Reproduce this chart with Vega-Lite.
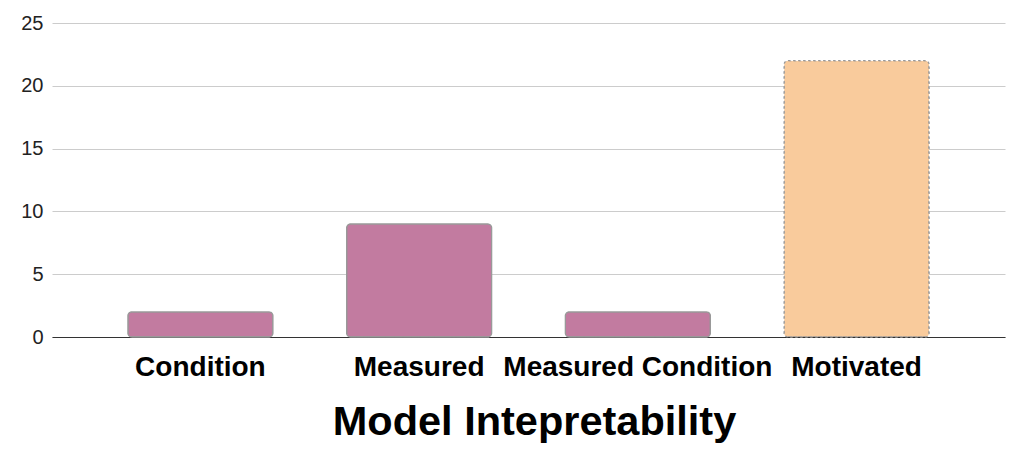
{
  "$schema": "https://vega.github.io/schema/vega-lite/v6.json",
  "width": 953,
  "height": 314,
  "autosize": {"type": "none"},
  "padding": {"left": 52, "top": 23, "right": 23, "bottom": 121},
  "background": "white",
  "config": {"view": {"stroke": null}, "font": "Liberation Sans"},
  "data": {"values": [
    {"category": "Condition", "count": 2},
    {"category": "Measured", "count": 9},
    {"category": "Measured Condition", "count": 2},
    {"category": "Motivated", "count": 22}
  ]},
  "mark": {"type": "bar", "cornerRadius": 4, "stroke": "#999999", "strokeWidth": 1.3},
  "encoding": {
    "x": {
      "field": "category", "type": "nominal", "sort": null,
      "scale": {"paddingInner": 0.337, "paddingOuter": 0.347},
      "axis": {
        "title": "Model Intepretability",
        "titleFont": "Liberation Sans", "titleFontSize": 41.5, "titleFontWeight": "bold", "titleColor": "#000000",
        "titleBaseline": "alphabetic", "titleY": 97, "titleX": 482, "titleAlign": "center",
        "labelFont": "Liberation Sans", "labelFontSize": 28, "labelFontWeight": "bold", "labelColor": "#000000",
        "labelAngle": 0, "labelBaseline": "alphabetic", "labelPadding": 38, "labelOverlap": false, "labelLimit": 400,
        "ticks": false, "domainColor": "#333333", "domainWidth": 1.2, "grid": false
      }
    },
    "y": {
      "field": "count", "type": "quantitative",
      "scale": {"domain": [0, 25], "nice": false},
      "axis": {
        "title": null, "values": [0, 5, 10, 15, 20, 25],
        "labelFont": "Liberation Sans", "labelFontSize": 20, "labelColor": "#222222", "labelPadding": 9,
        "ticks": false, "domain": false, "gridColor": "#cccccc", "gridWidth": 1
      }
    },
    "color": {
      "field": "category", "type": "nominal", "legend": null,
      "scale": {"domain": ["Condition", "Measured", "Measured Condition", "Motivated"], "range": ["#c27ba0", "#c27ba0", "#c27ba0", "#f9cb9c"]}
    },
    "strokeDash": {
      "condition": {"test": "datum.category === 'Motivated'", "value": [2.5, 2.5]},
      "value": [1, 0]
    }
  }
}
